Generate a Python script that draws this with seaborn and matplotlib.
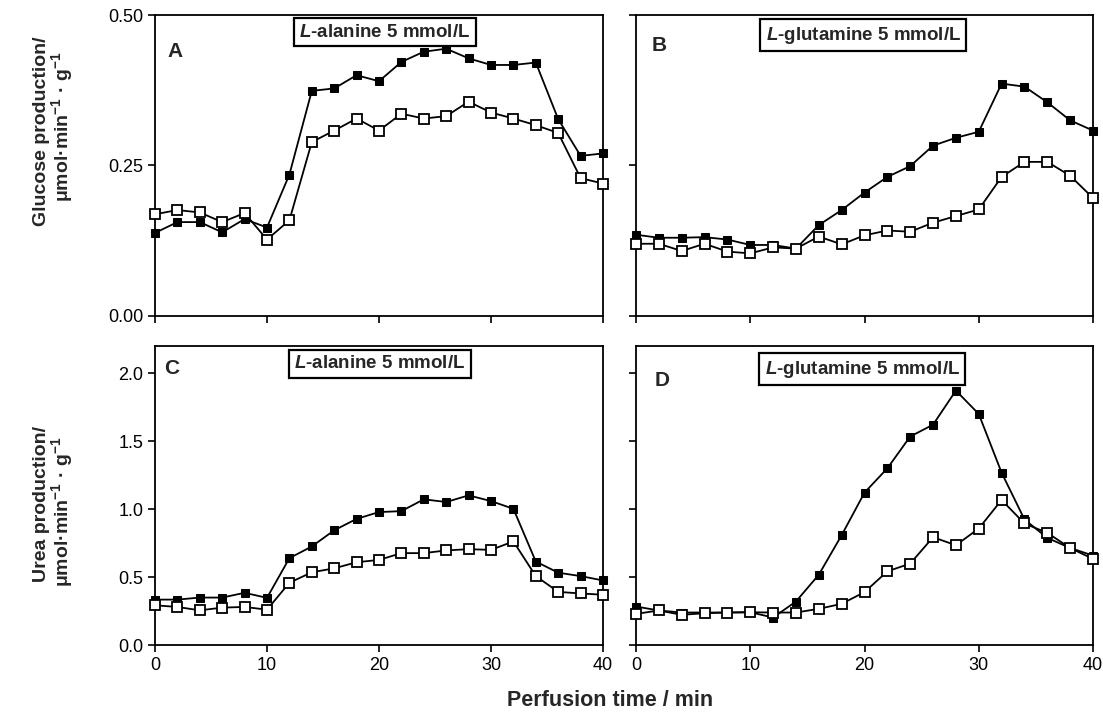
import numpy as np
import pandas as pd
import seaborn as sns
import matplotlib.pyplot as plt

# Час перфузії, хв
time = [0, 2, 4, 6, 8, 10, 12, 14, 16, 18, 20, 22, 24, 26, 28, 30, 32, 34, 36, 38, 40]

# A: глюкоза, L-аланін
glc_ala_filled = [0.138, 0.156, 0.156, 0.139, 0.161, 0.147, 0.235, 0.374, 0.378, 0.400, 0.390,
                  0.422, 0.439, 0.444, 0.428, 0.417, 0.417, 0.421, 0.327, 0.266, 0.270]
glc_ala_open = [0.169, 0.176, 0.172, 0.156, 0.171, 0.127, 0.159, 0.289, 0.308, 0.328, 0.308,
                0.336, 0.328, 0.332, 0.356, 0.338, 0.328, 0.317, 0.304, 0.229, 0.220]

# B: глюкоза, L-глутамін
glc_gln_filled = [0.135, 0.130, 0.130, 0.131, 0.127, 0.118, 0.118, 0.112, 0.151, 0.176, 0.205,
                  0.231, 0.249, 0.283, 0.296, 0.306, 0.386, 0.381, 0.355, 0.325, 0.308]
glc_gln_open = [0.120, 0.120, 0.108, 0.120, 0.107, 0.104, 0.114, 0.112, 0.132, 0.119, 0.134,
                0.142, 0.140, 0.155, 0.166, 0.177, 0.231, 0.256, 0.256, 0.233, 0.196]

# C: сечовина, L-аланін
urea_ala_filled = [0.334, 0.334, 0.349, 0.349, 0.384, 0.347, 0.639, 0.725, 0.844, 0.928, 0.978,
                   0.985, 1.072, 1.052, 1.101, 1.059, 1.002, 0.614, 0.532, 0.507, 0.475]
urea_ala_open = [0.292, 0.280, 0.255, 0.275, 0.280, 0.260, 0.458, 0.535, 0.564, 0.609, 0.626,
                 0.676, 0.676, 0.696, 0.705, 0.700, 0.762, 0.507, 0.391, 0.379, 0.370]

# D: сечовина, L-глутамін
urea_gln_filled = [0.283, 0.254, 0.239, 0.239, 0.239, 0.241, 0.202, 0.320, 0.517, 0.808, 1.121,
                   1.300, 1.534, 1.621, 1.872, 1.700, 1.268, 0.924, 0.788, 0.714, 0.658]
urea_gln_open = [0.229, 0.254, 0.222, 0.234, 0.239, 0.241, 0.239, 0.239, 0.266, 0.303, 0.389,
                 0.542, 0.599, 0.793, 0.734, 0.857, 1.067, 0.894, 0.825, 0.714, 0.633]

panel_letters = ["A", "B", "C", "D"]
panel_titles = [r"$\mathit{L}$-alanine 5 mmol/L", r"$\mathit{L}$-glutamine 5 mmol/L",
                r"$\mathit{L}$-alanine 5 mmol/L", r"$\mathit{L}$-glutamine 5 mmol/L"]

sns.set_style("ticks")
plt.rcParams['font.family'] = ['Liberation Sans', 'DejaVu Sans']
plt.rcParams['mathtext.fontset'] = 'custom'
plt.rcParams['mathtext.rm'] = 'Liberation Sans:bold'
plt.rcParams['mathtext.it'] = 'Liberation Sans:italic:bold'
plt.rcParams['mathtext.bf'] = 'Liberation Sans:bold'
plt.rcParams['axes.unicode_minus'] = False

fig = plt.figure(figsize=(11.03, 7.26), dpi=100)

W, H = 1103, 726
boxes = [(155, 603, 15, 316), (636, 1093, 15, 316),
         (155, 603, 346, 645), (636, 1093, 346, 645)]
axes = [fig.add_axes([l / W, 1 - b / H, (r - l) / W, (b - t) / H]) for l, r, t, b in boxes]

series = [(glc_ala_filled, glc_ala_open), (glc_gln_filled, glc_gln_open),
          (urea_ala_filled, urea_ala_open), (urea_gln_filled, urea_gln_open)]

letter_pos = [(0.045, 0.88), (0.05, 0.90), (0.038, 0.925), (0.057, 0.885)]
title_pos = [(0.513, 0.943), (0.497, 0.933), (0.502, 0.94), (0.495, 0.923)]

for i, ax in enumerate(axes):
    filled, opened = series[i]
    df = pd.DataFrame({"t": time, "filled": filled, "open": opened})
    sns.lineplot(data=df, x="t", y="filled", ax=ax, color="black", lw=1.3,
                 marker="s", markersize=6, markerfacecolor="black",
                 markeredgecolor="black", clip_on=False, zorder=3)
    sns.lineplot(data=df, x="t", y="open", ax=ax, color="black", lw=1.3,
                 marker="s", markersize=7, markerfacecolor="white",
                 markeredgecolor="black", markeredgewidth=1.3, clip_on=False, zorder=4)
    ax.set_xlim(0, 40)
    ax.set_xticks([0, 10, 20, 30, 40])
    ax.set_xlabel("")
    ax.set_ylabel("")
    if i < 2:
        ax.set_ylim(0, 0.5)
        ax.set_yticks([0.0, 0.25, 0.5])
        ax.set_xticklabels([])
    else:
        ax.set_ylim(0, 2.2)
        ax.set_yticks([0.0, 0.5, 1.0, 1.5, 2.0])
    if i % 2 == 1:
        ax.set_yticklabels([])
    elif i == 0:
        ax.set_yticklabels(["0.00", "0.25", "0.50"])
    for sp in ax.spines.values():
        sp.set_visible(True)
        sp.set_linewidth(1.3)
        sp.set_color("black")
    ax.tick_params(direction="out", length=5, width=1.2, labelsize=13, colors="black")
    ax.text(*letter_pos[i], panel_letters[i], transform=ax.transAxes, ha="center",
            va="center", fontsize=15, fontweight="bold")
    ax.text(*title_pos[i], panel_titles[i], transform=ax.transAxes, ha="center",
            va="center", fontsize=13.5, fontweight="bold",
            bbox=dict(boxstyle="square,pad=0.3", fc="white", ec="black", lw=1.6))

# Підписи осей
fig.text(42 / W, 1 - 131 / H, "Glucose production/", rotation=90, ha="center",
         va="center", fontsize=14, fontweight="bold")
fig.text(62 / W, 1 - 127 / H, r"μmol·min$^{-1}$ · g$^{-1}$", rotation=90,
         ha="center", va="center", fontsize=14, fontweight="bold")
fig.text(42 / W, 1 - 504 / H, "Urea production/", rotation=90, ha="center",
         va="center", fontsize=14, fontweight="bold")
fig.text(62 / W, 1 - 512 / H, r"μmol·min$^{-1}$ · g$^{-1}$", rotation=90,
         ha="center", va="center", fontsize=14, fontweight="bold")
fig.text(610 / W, 1 - 701 / H, "Perfusion time / min", ha="center", va="center",
         fontsize=15.5, fontweight="bold")

fig.savefig("out.png", dpi=100)
